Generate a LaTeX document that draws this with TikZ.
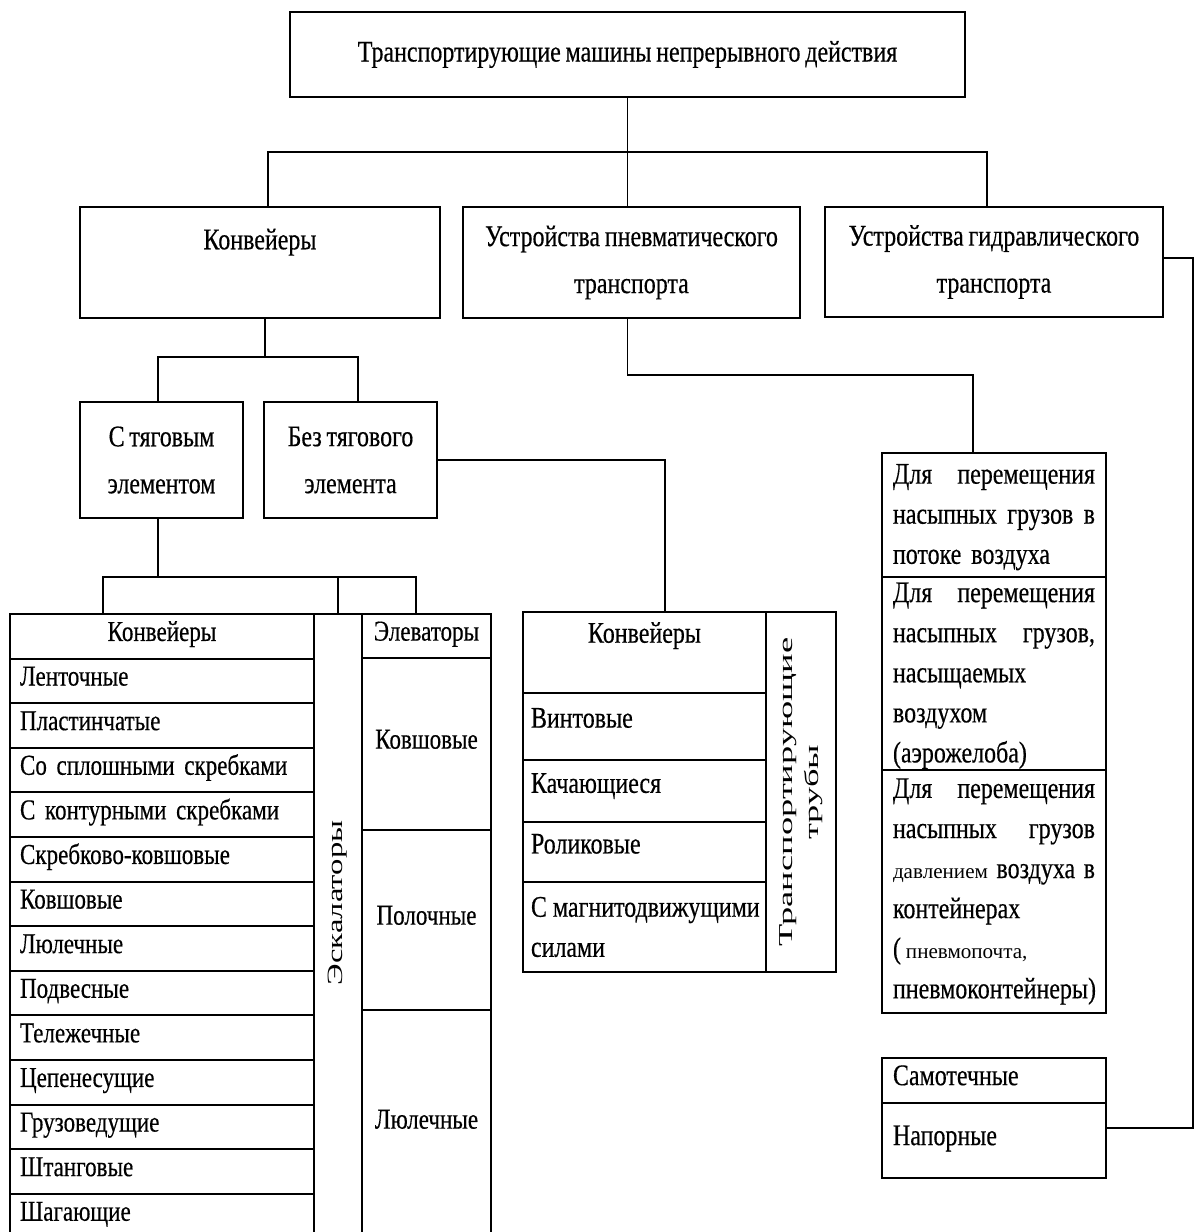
\documentclass[tikz,border=0pt]{standalone}
\usepackage{fontspec}
\setmainfont{Liberation Serif}
\newfontfamily\condfont[FakeStretch=0.8, FakeBold=0.4, WordSpace=0.8]{Liberation Serif}
\newfontfamily\escfont[FakeStretch=1.5]{Liberation Serif}
\newfontfamily\tubefont[FakeStretch=1.85]{Liberation Serif}
\usetikzlibrary{positioning}
\newcommand{\px}{0.025cm}

\begin{document}
\begin{tikzpicture}[x=\px, y=-\px,
        hbox/.style={rectangle, draw, line width=1.4pt, inner sep=0pt, outer sep=0pt, anchor=north west, align=center, font=\condfont\fontsize{21.3}{33.4}\selectfont},
        crow/.style={rectangle, draw, line width=1.4pt, inner sep=0pt, inner xsep=10*\px, outer sep=0pt, text width=284*\px, minimum height=44.6*\px, align=left, text height=0.66em, text depth=0pt, font=\condfont\fontsize{20.5}{24}\selectfont},
        erow/.style={rectangle, draw, line width=1.4pt, inner sep=0pt, outer sep=0pt, minimum width=129*\px, text height=0.66em, text depth=0pt, font=\condfont\fontsize{20.5}{24}\selectfont},
        mrow/.style={rectangle, draw, line width=1.4pt, inner sep=0pt, inner xsep=8*\px, outer sep=0pt, text width=227*\px, align=left, font=\condfont\fontsize{21.3}{28.5}\selectfont},
        rrow/.style={rectangle, draw, line width=1.4pt, inner sep=0pt, inner xsep=11*\px, outer sep=0pt, text width=202*\px, align=left, font=\condfont\fontsize{21.3}{28.5}\selectfont},
        link/.style={line width=1.4pt}
    ]
    \useasboundingbox (0,0) rectangle (1196,1232);

    % --- 1. TOP LEVEL ---
    \node [hbox, minimum width=675*\px, minimum height=85*\px] (top) at (290,12) {Транспортирующие машины непрерывного действия};

    % --- 2. MACHINE GROUPS ---
    \node [hbox, minimum width=360*\px, minimum height=111*\px] (conv) at (80,207) {Конвейеры\\~};
    \node [hbox, minimum width=337*\px, minimum height=111*\px] (pneu) at (463,207) {Устройства пневматического\\транспорта};
    \node [hbox, minimum width=338*\px, minimum height=110*\px] (hydr) at (825,207) {Устройства гидравлического\\транспорта};

    \coordinate (bus_l) at (268,152);
    \coordinate (bus_r) at (987,152);
    \draw [link] (top.south) -- (top.south |- pneu.north);
    \draw [link] (conv.north -| bus_l) -- (bus_l) -- (bus_r) -- (hydr.north -| bus_r);

    % --- 3. CONVEYOR TYPES ---
    \node [hbox, minimum width=163*\px, minimum height=116*\px] (trac_yes) at (80,402) {С тяговым\\элементом};
    \node [hbox, minimum width=173*\px, minimum height=116*\px] (trac_no) at (264,402) {Без тягового\\элемента};

    \coordinate (conv_bus_l) at (158,357);
    \coordinate (conv_bus_m) at (265,357);
    \coordinate (conv_bus_r) at (358,357);
    \draw [link] (conv.south -| conv_bus_m) -- (conv_bus_m);
    \draw [link] (trac_yes.north -| conv_bus_l) -- (conv_bus_l) -- (conv_bus_r) -- (trac_no.north -| conv_bus_r);

    % --- 4. WITH TRACTION ELEMENT: conveyors, escalators, elevators ---
    \node [crow, align=center, anchor=north west] (c_head) at (10,614) {Конвейеры};
    \node [crow, below=0pt of c_head] (c_r1) {Ленточные};
    \node [crow, below=0pt of c_r1] (c_r2) {Пластинчатые};
    \node [crow, below=0pt of c_r2] (c_r3) {Со сплошными скребками};
    \node [crow, below=0pt of c_r3] (c_r4) {С контурными скребками};
    \node [crow, below=0pt of c_r4] (c_r5) {Скребково-ковшовые};
    \node [crow, below=0pt of c_r5] (c_r6) {Ковшовые};
    \node [crow, below=0pt of c_r6] (c_r7) {Люлечные};
    \node [crow, below=0pt of c_r7] (c_r8) {Подвесные};
    \node [crow, below=0pt of c_r8] (c_r9) {Тележечные};
    \node [crow, below=0pt of c_r9] (c_r10) {Цепенесущие};
    \node [crow, below=0pt of c_r10] (c_r11) {Грузоведущие};
    \node [crow, below=0pt of c_r11] (c_r12) {Штанговые};
    \node [crow, below=0pt of c_r12] (c_r13) {Шагающие};

    \node [hbox, minimum width=48*\px, minimum height=624*\px] (esc) at (314,614) {};
    \node [rotate=90, inner sep=0pt, font=\escfont\fontsize{15.5}{18}\selectfont] (esc_lbl) at (338,903) {Эскалаторы};

    \node [erow, anchor=north west, minimum height=44*\px] (e_head) at (362,614) {Элеваторы};
    \node [erow, below=0pt of e_head, minimum height=172*\px] (e_r1) {Ковшовые};
    \node [erow, below=0pt of e_r1, minimum height=180*\px] (e_r2) {Полочные};
    \node [erow, below=0pt of e_r2, minimum height=228*\px] (e_r3) {Люлечные};

    \coordinate (tr_bus_l) at (103,577);
    \coordinate (tr_bus_m) at (158,577);
    \coordinate (tr_bus_r) at (416,577);
    \draw [link] (trac_yes.south -| tr_bus_m) -- (tr_bus_m);
    \draw [link] (c_head.north -| tr_bus_l) -- (tr_bus_l) -- (tr_bus_r) -- (e_head.north -| tr_bus_r);
    \draw [link] (esc.north) -- (esc.north |- tr_bus_r);

    % --- 5. WITHOUT TRACTION ELEMENT ---
    \node [mrow, anchor=north west, align=center, minimum height=81*\px] (m_head) at (523,612) {Конвейеры\\~};
    \node [mrow, below=0pt of m_head, minimum height=67*\px, text height=0.66em, text depth=0.5em] (m_r1) {Винтовые};
    \node [mrow, below=0pt of m_r1, minimum height=62*\px, text height=0.66em, text depth=0.4em] (m_r2) {Качающиеся};
    \node [mrow, below=0pt of m_r2, minimum height=60*\px, text height=0.66em, text depth=0.45em] (m_r3) {Роликовые};
    \node [mrow, below=0pt of m_r3, minimum height=90*\px] (m_r4) {\mbox{С\kern0.2em магнитодвижущими}\\ силами};
    \node [draw, line width=1.4pt, rotate=90, inner sep=0pt, outer sep=0pt, minimum width=360*\px, minimum height=70*\px, align=center, font=\tubefont\fontsize{14}{18.5}\selectfont] (tubes) at (801,792) {Транспортирующие\\трубы};

    \coordinate (nt_x) at (665,0);
    \draw [link] (trac_no.east) -| (m_head.north -| nt_x);

    % --- 6. PNEUMATIC TRANSPORT ---
    \node [rrow, anchor=north west, minimum height=124*\px] (r_1) at (882,453) {\rule{0pt}{17pt}Для\hfill перемещения\\ насыпных\hfill грузов\hfill в\\ потоке воздуха};
    \node [rrow, below=0pt of r_1, minimum height=193*\px] (r_2) {\rule{0pt}{17pt}Для\hfill перемещения\\ насыпных\hfill грузов,\\ насыщаемых\\ воздухом\\ (аэрожелоба)};
    \node [rrow, below=0pt of r_2, minimum height=243*\px] (r_3) {Для\hfill перемещения\\ насыпных\hfill грузов\\ {\rmfamily\fontsize{15}{28.5}\selectfont давлением}\hfill воздуха\hfill в\\ контейнерах\\ (\,{\rmfamily\fontsize{15}{28.5}\selectfont пневмопочта,}\\ пневмоконтейнеры)};

    \coordinate (pn_turn) at (973,375);
    \draw [link] (top.south |- pneu.south) |- (pn_turn) -- (r_1.north -| pn_turn);

    % --- 7. HYDRAULIC TRANSPORT ---
    \node [rrow, anchor=north west, minimum height=45*\px, text height=0.66em, text depth=0pt] (r_4) at (882,1058) {Самотечные};
    \node [rrow, below=0pt of r_4, minimum height=75*\px, text height=0.66em, text depth=0pt] (r_5) {Напорные};

    \coordinate (hy_top) at (1193,258);
    \coordinate (hy_bot) at (1193,1128);
    \draw [link] (hydr.east |- hy_top) -- (hy_top) -- (hy_bot) -- (r_5.east |- hy_bot);

\end{tikzpicture}
\end{document}
